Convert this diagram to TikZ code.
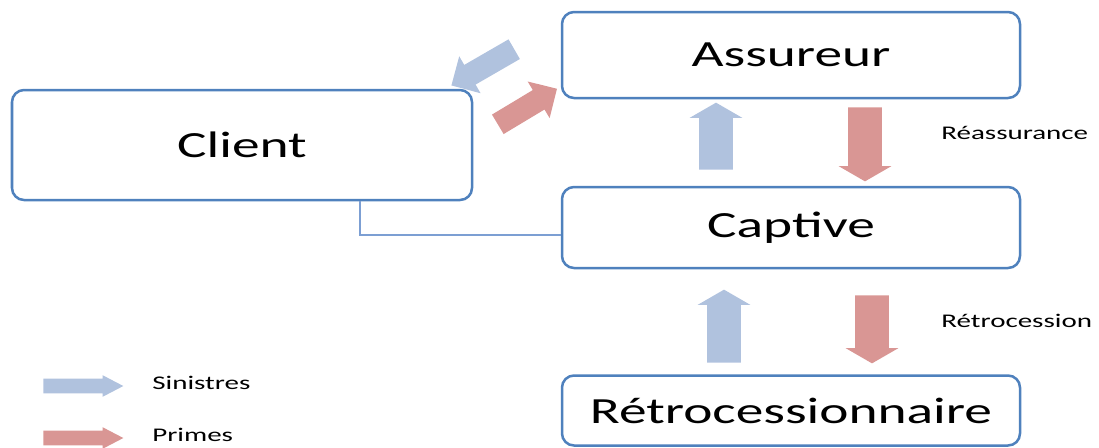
\documentclass[tikz,border=0pt]{standalone}
\usepackage{fontspec}
\setmainfont{Carlito}[FakeStretch=1.5]
\usetikzlibrary{shapes.arrows}
\definecolor{bordbleu}{HTML}{4F81BD}
\definecolor{lienbleu}{HTML}{7C9FD3}
\definecolor{bleuclair}{HTML}{B0C2DE}
\definecolor{rougeclair}{HTML}{D99694}
\tikzset{
  boite/.style={rectangle, rounded corners=0.24cm, draw=bordbleu, line width=0.05cm, fill=white, minimum width=9.16cm, font=\fontsize{21}{25}\selectfont},
  fleche/.style={single arrow, draw=none, inner xsep=0pt, minimum width=1pt, anchor=tail},
  sinistres/.style={fleche, fill=bleuclair},
  primes/.style={fleche, fill=rougeclair},
  grande/.style={inner ysep=0.33cm, single arrow head extend=0.19cm, single arrow tip angle=120},
  oblique/.style={inner ysep=0.22cm, single arrow head extend=0.2cm, single arrow tip angle=90},
  petite/.style={inner ysep=0.14cm, single arrow head extend=0.07cm, single arrow tip angle=55},
  legende/.style={anchor=west, inner xsep=0pt, font=\fontsize{11}{13}\selectfont}
}
\begin{document}
\begin{tikzpicture}
\useasboundingbox (0,0) rectangle (21.98,-8.94);

\node [boite, minimum height=1.72cm] (assureur) at (15.82,-1.10) {Assureur};
\node [boite, minimum width=9.2cm, minimum height=2.2cm] (client) at (4.84,-2.90) {Client};
\node [boite, minimum height=1.62cm] (captive) at (15.82,-4.55) {Captive};
\node [boite, minimum height=1.40cm] (retro) at (15.82,-8.21) {Rétrocessionnaire};
\draw [draw=lienbleu, line width=0.03cm] ([xshift=2.36cm]client.south) |- ([yshift=-0.15cm]captive.west);

% client <-> assureur
\node [sinistres, oblique, minimum height=1.45cm, rotate=210] (s1) at (10.29,-0.98) {};
\node [primes, oblique, minimum height=1.38cm, rotate=31] (p1) at (9.95,-2.49) {};

% captive <-> assureur
\node [sinistres, grande, minimum height=1.34cm, rotate=90] (s2) at (14.32,-3.40) {};
\node [primes, grande, minimum height=1.48cm, rotate=-90] (p2) at (17.30,-2.14) {};
\node [legende] (reass) at (18.82,-2.66) {Réassurance};

% retrocessionnaire <-> captive
\node [sinistres, grande, minimum height=1.46cm, rotate=90] (s3) at (14.48,-7.26) {};
\node [primes, grande, minimum height=1.36cm, rotate=-90] (p3) at (17.44,-5.90) {};
\node [legende] (retroc) at (18.82,-6.42) {Rétrocession};

% legende
\node [sinistres, petite, minimum height=1.6cm] (ls) at (0.86,-7.72) {};
\node [legende] (lst) at (3.04,-7.66) {Sinistres};
\node [primes, petite, minimum height=1.6cm] (lp) at (0.86,-8.76) {};
\node [legende] (lpt) at (3.04,-8.70) {Primes};
\end{tikzpicture}
\end{document}
